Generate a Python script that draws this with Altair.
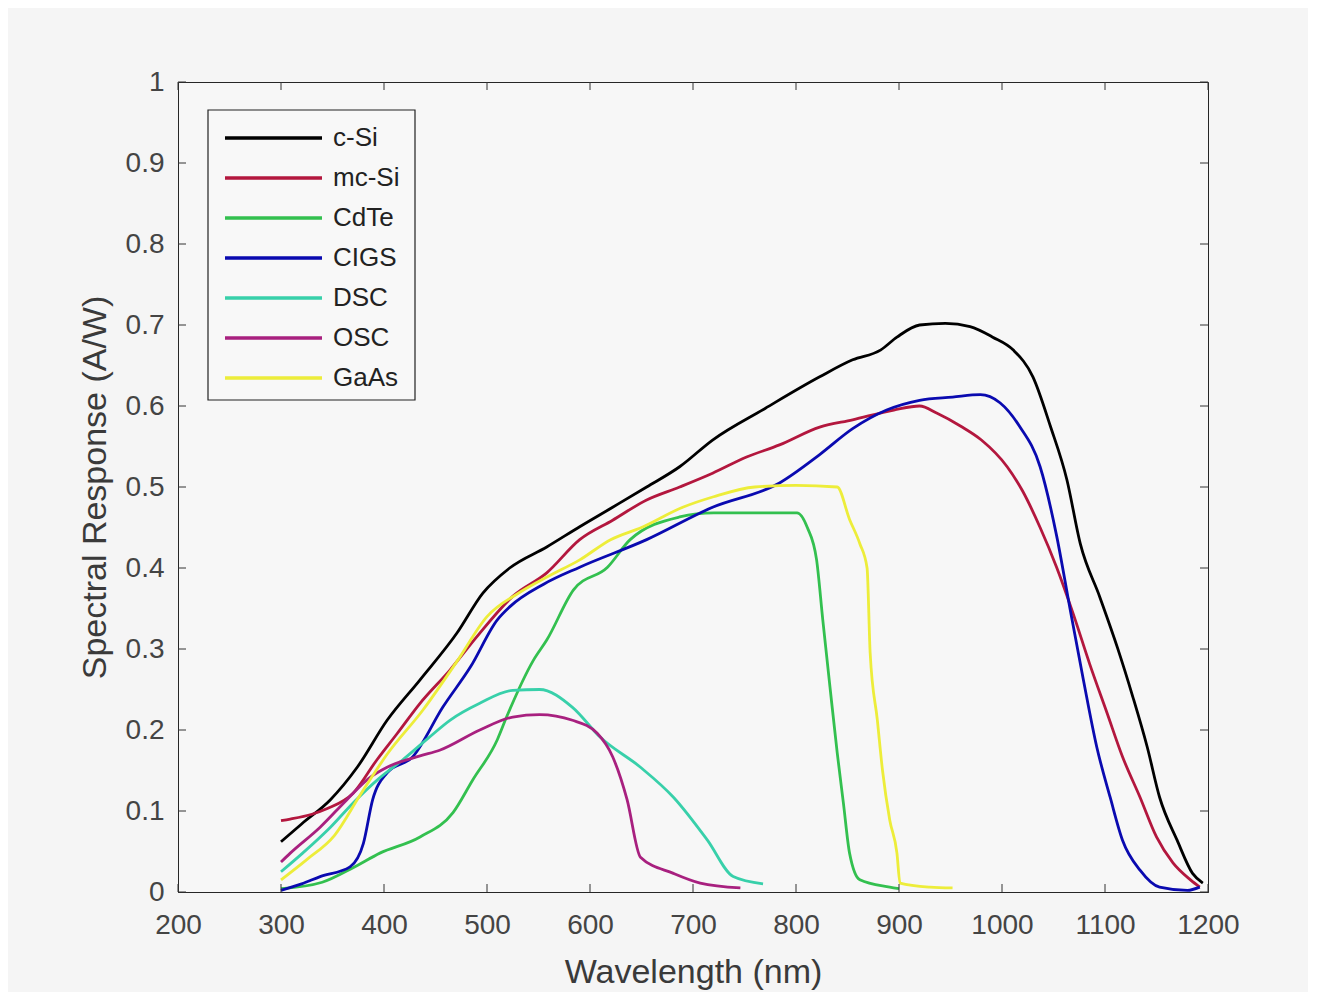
import altair as alt
import pandas as pd

series = ["c-Si", "mc-Si", "CdTe", "CIGS", "DSC", "OSC", "GaAs"]
colors = ["#000000", "#B3173E", "#33C04F", "#0A0AB0", "#38D0AA", "#A8207F", "#EDED3A"]

x_ticks = [200, 300, 400, 500, 600, 700, 800, 900, 1000, 1100, 1200]
y_ticks = [0, 0.1, 0.2, 0.3, 0.4, 0.5, 0.6, 0.7, 0.8, 0.9, 1.0]

csi_nm = [300, 320, 348, 374, 403, 435, 471, 496, 522, 558, 590, 622, 655, 687, 719, 770, 823, 855, 882,
          898, 920, 945, 969, 991, 1011, 1030, 1047, 1063, 1076, 1095, 1112, 1127, 1141, 1153, 1170, 1185, 1195]
csi_sr = [0.062, 0.084, 0.114, 0.154, 0.212, 0.262, 0.32, 0.369, 0.40, 0.426, 0.451, 0.475, 0.50, 0.525, 0.558,
          0.597, 0.636, 0.657, 0.669, 0.685, 0.70, 0.702, 0.698, 0.685, 0.669, 0.636, 0.575, 0.509, 0.43, 0.364,
          0.302, 0.241, 0.179, 0.117, 0.064, 0.023, 0.011]

mcsi_nm = [300, 309, 330, 345, 370, 393, 413, 435, 464, 490, 525, 558, 590, 622, 655, 687, 719, 752, 784, 823,
           855, 895, 920, 937, 960, 980, 1005, 1020, 1037, 1053, 1069, 1085, 1102, 1117, 1134, 1150, 1166, 1183, 1192]
mcsi_sr = [0.088, 0.090, 0.096, 0.103, 0.122, 0.163, 0.196, 0.233, 0.274, 0.315, 0.365, 0.394, 0.435, 0.459,
           0.484, 0.50, 0.517, 0.537, 0.552, 0.574, 0.583, 0.595, 0.60, 0.591, 0.575, 0.558, 0.525, 0.495, 0.45,
           0.401, 0.344, 0.282, 0.221, 0.167, 0.117, 0.068, 0.036, 0.015, 0.006]

cdte_nm = [300, 340, 370, 396, 435, 467, 486, 510, 519, 545, 558, 584, 617, 639, 687, 720, 768, 801, 811, 820,
           826, 833, 840, 846, 852, 862, 891, 900]
cdte_sr = [0.004, 0.012, 0.03, 0.048, 0.068, 0.098, 0.138, 0.188, 0.216, 0.286, 0.311, 0.373, 0.401, 0.435,
           0.463, 0.468, 0.468, 0.468, 0.45, 0.41, 0.336, 0.253, 0.172, 0.11, 0.048, 0.015, 0.006, 0.004]

cigs_nm = [300, 320, 338, 367, 380, 389, 403, 428, 457, 484, 510, 522, 555, 590, 655, 719, 784, 823, 855, 888,
           920, 952, 979, 998, 1017, 1037, 1053, 1066, 1079, 1092, 1105, 1117, 1134, 1153, 1180, 1192]
cigs_sr = [0.002, 0.01, 0.019, 0.031, 0.06, 0.114, 0.147, 0.167, 0.228, 0.278, 0.336, 0.352, 0.38, 0.401, 0.435,
           0.475, 0.505, 0.54, 0.572, 0.595, 0.607, 0.611, 0.614, 0.604, 0.575, 0.525, 0.44, 0.35, 0.262, 0.179,
           0.117, 0.064, 0.027, 0.006, 0.002, 0.006]

dsc_nm = [300, 321, 348, 370, 395, 418, 443, 464, 493, 525, 551, 583, 610, 649, 681, 714, 739, 768]
dsc_sr = [0.025, 0.048, 0.08, 0.11, 0.14, 0.163, 0.19, 0.212, 0.233, 0.249, 0.25, 0.228, 0.191, 0.154, 0.117,
          0.064, 0.019, 0.01]

osc_nm = [300, 309, 338, 364, 385, 403, 435, 454, 493, 525, 551, 583, 607, 622, 636, 649, 681, 707, 746]
osc_sr = [0.037, 0.048, 0.08, 0.114, 0.14, 0.154, 0.168, 0.175, 0.20, 0.216, 0.219, 0.212, 0.196, 0.167, 0.114,
          0.043, 0.023, 0.011, 0.005]

gaas_nm = [300, 325, 352, 377, 403, 438, 471, 500, 532, 560, 590, 620, 650, 690, 720, 760, 800, 840, 852, 862,
           869, 872, 879, 884, 891, 898, 901, 930, 952]
gaas_sr = [0.015, 0.04, 0.07, 0.12, 0.17, 0.225, 0.285, 0.34, 0.37, 0.39, 0.41, 0.435, 0.45, 0.475, 0.488, 0.5,
           0.502, 0.5, 0.46, 0.43, 0.4, 0.295, 0.212, 0.15, 0.089, 0.048, 0.011, 0.006, 0.005]

all_nm = [csi_nm, mcsi_nm, cdte_nm, cigs_nm, dsc_nm, osc_nm, gaas_nm]
all_sr = [csi_sr, mcsi_sr, cdte_sr, cigs_sr, dsc_sr, osc_sr, gaas_sr]

rows = []
for i, (name, xs, ys) in enumerate(zip(series, all_nm, all_sr)):
    for x, y in zip(xs, ys):
        rows.append({"series": name, "nm": x, "sr": y, "ord": i})
df = pd.DataFrame(rows)

W, H = 1030, 810
FONT = "Liberation Sans"

xscale = alt.Scale(domain=[200, 1200], nice=False, zero=False)
yscale = alt.Scale(domain=[0, 1], nice=False, zero=False)
cscale = alt.Scale(domain=series, range=colors)

lines = alt.Chart(df).mark_line(strokeWidth=2.8, interpolate="monotone").encode(
    x=alt.X("nm:Q", scale=xscale,
            axis=alt.Axis(values=x_ticks, format="d", ticks=False, grid=False, labelFlush=False,
                          labelFontSize=28, labelFont=FONT, labelColor="#444444", labelPadding=19,
                          title="Wavelength (nm)", titleFont=FONT, titleFontSize=34,
                          titleFontWeight="normal", titleColor="#3a3a3a", titlePadding=16,
                          domainColor="#262626")),
    y=alt.Y("sr:Q", scale=yscale,
            axis=alt.Axis(values=y_ticks, format=".1~f", ticks=False, grid=False, labelFlush=False,
                          labelFontSize=28, labelFont=FONT, labelColor="#444444", labelPadding=14,
                          title="Spectral Response (A/W)", titleFont=FONT, titleFontSize=34,
                          titleFontWeight="normal", titleColor="#3a3a3a", titlePadding=13,
                          domainColor="#262626")),
    color=alt.Color("series:N", scale=cscale, legend=None),
    order=alt.Order("ord:Q"),
)

xt = pd.DataFrame({"t": x_ticks})
yt = pd.DataFrame({"t": y_ticks})
tick_color = "#333333"
xt_bottom = alt.Chart(xt).mark_rule(color=tick_color, strokeWidth=1).encode(
    x=alt.X("t:Q", scale=xscale, axis=None), y=alt.value(H - 8), y2=alt.value(H))
xt_top = alt.Chart(xt).mark_rule(color=tick_color, strokeWidth=1).encode(
    x=alt.X("t:Q", scale=xscale, axis=None), y=alt.value(0), y2=alt.value(8))
yt_left = alt.Chart(yt).mark_rule(color=tick_color, strokeWidth=1).encode(
    y=alt.Y("t:Q", scale=yscale, axis=None), x=alt.value(0), x2=alt.value(8))
yt_right = alt.Chart(yt).mark_rule(color=tick_color, strokeWidth=1).encode(
    y=alt.Y("t:Q", scale=yscale, axis=None), x=alt.value(W - 8), x2=alt.value(W))

box = alt.Chart(pd.DataFrame({"a": [0]})).mark_rect(fill="#F8F8F8", stroke="#222222", strokeWidth=1.2).encode(
    x=alt.value(30), x2=alt.value(237), y=alt.value(28), y2=alt.value(318))

leg_df = pd.DataFrame({"series": series})
leg_y = alt.Y("series:N", scale=alt.Scale(type="point", domain=series, range=[56, 296], padding=0), axis=None)
leg_lines = alt.Chart(leg_df).mark_rule(strokeWidth=3.5).encode(
    x=alt.value(47), x2=alt.value(144), y=leg_y,
    color=alt.Color("series:N", scale=cscale, legend=None))
leg_text = alt.Chart(leg_df).mark_text(align="left", baseline="middle", fontSize=26, font=FONT,
                                       color="#222222").encode(
    x=alt.value(155), y=leg_y, text="series:N")

chart = alt.layer(lines, xt_bottom, xt_top, yt_left, yt_right, box, leg_lines, leg_text).resolve_scale(
    x="independent", y="independent", color="shared"
).properties(
    width=W, height=H,
    padding={"left": 170, "top": 74, "right": 100, "bottom": 100},
    autosize=alt.AutoSizeParams(type="none"),
    background="#F5F5F5",
).configure_view(stroke="#262626", strokeWidth=1, fill="#F7F7F7")

chart.save("out.html", embed_options={"renderer": "svg", "actions": False})
